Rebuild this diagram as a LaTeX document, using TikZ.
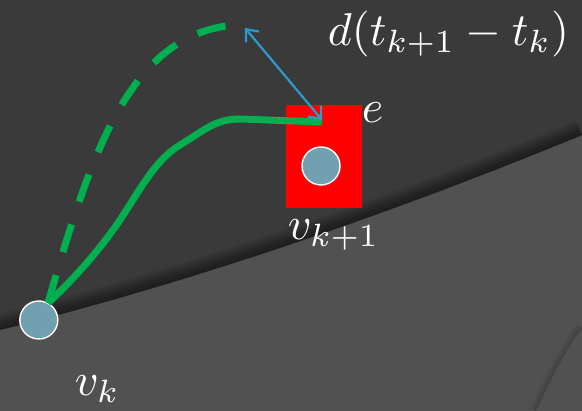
\documentclass[tikz,border=0pt]{standalone}
\usepackage{amsmath}
\usepackage{amssymb}
\usepackage{tikz}
\usetikzlibrary{arrows.meta}
\usepackage{xcolor}

\definecolor{bgdark}{HTML}{3A3A3A}
\definecolor{bglight}{HTML}{515151}
\definecolor{routegreen}{HTML}{00B050}
\definecolor{vertexblue}{HTML}{71A1B0}
\definecolor{gapblue}{HTML}{2B9BCB}

\begin{document}
\begin{tikzpicture}[x = 1pt, y = -1pt,
    vertex/.style = {circle, fill = vertexblue, draw = white, line width = 1.4pt, minimum size = 38pt, inner sep = 0pt},
    txt/.style = {text = white, scale = 4.6, inner sep = 0pt},
    route/.style = {routegreen, line width = 7pt},
    gap/.style = {gapblue, line width = 2.2pt, <->, >={Straight Barb[length = 10pt, width = 17pt]}}
    ]
    \useasboundingbox (0,0) rectangle (582,411);

    % background
    \fill[bgdark] (0,0) rectangle (582,411);
    \fill[bglight] (0,330) .. controls (200,280) and (400,210) .. (582,135) -- (582,411) -- (0,411) -- cycle;
    \begin{scope}
        \clip (0,0) -- (0,330) .. controls (200,280) and (400,210) .. (582,135) -- (582,0) -- cycle;
        \foreach \w in {2,5,...,32}
            \draw[black, opacity = 0.05, line width = \w pt] (0,330) .. controls (200,280) and (400,210) .. (582,135);
    \end{scope}
    \begin{scope}
        \clip (582,328) .. controls (565,350) and (548,385) .. (536,411) -- (470,411) -- (582,250) -- cycle;
        \foreach \w in {2,5,...,14}
            \draw[black, opacity = 0.035, line width = \w pt] (582,328) .. controls (565,350) and (548,385) .. (536,411);
    \end{scope}

    % nodes
    \node[fill = red, minimum width = 76pt, minimum height = 103pt, inner sep = 0pt] (box) at (324,156.5) {};
    \node[vertex] (vk) at (38.8,320) {};
    \node[vertex] (vknext) at (321,166) {};

    \coordinate (meet) at (48,303);
    \coordinate (enter) at (322,122);
    \coordinate (apex) at (234,25);
    \coordinate (tipa) at (245,28);
    \coordinate (tipb) at (322,120);

    % paths
    \draw[route, dash pattern = on 29pt off 24pt] (meet) .. controls (92,150) and (130,35) .. (apex);
    \draw[route] (enter) -- (240,119) .. controls (215,119) and (205,130) .. (180,145)
        .. controls (155,160) and (140,190) .. (120,220)
        .. controls (100,250) and (70,283) .. (meet);
    \draw[gap] (tipa) -- (tipb);

    % labels
    \node[txt, anchor = base west] (dist) at (327,46) {$d(t_{k+1}-t_k)$};
    \node[txt, anchor = base west] (elabel) at (361,123) {$e$};
    \node[txt, anchor = base west] (vnextlabel) at (287,240) {$v_{k+1}$};
    \node[txt, anchor = base west] (vklabel) at (74,396) {$v_k$};

\end{tikzpicture}
\end{document}
